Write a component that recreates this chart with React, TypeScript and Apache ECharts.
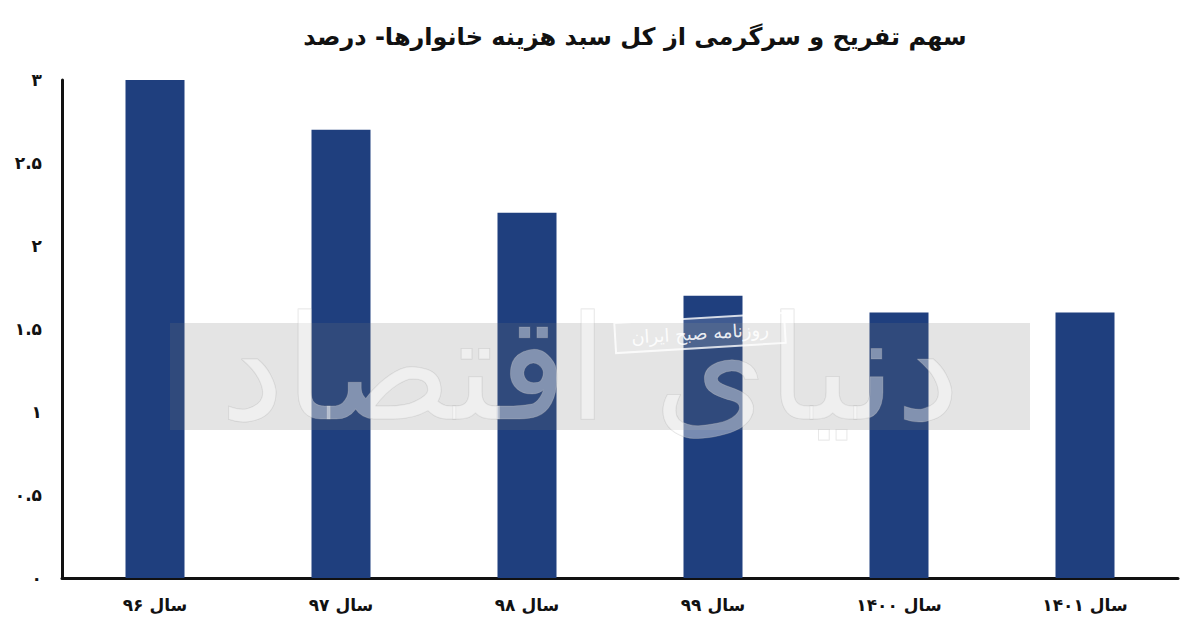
import React, { useEffect, useRef } from "react";
import * as echarts from "echarts";

const title = "سهم تفریح و سرگرمی از کل سبد هزینه خانوارها- درصد";
const categories = ["سال ۹۶", "سال ۹۷", "سال ۹۸", "سال ۹۹", "سال ۱۴۰۰", "سال ۱۴۰۱"];
const values = [3.0, 2.7, 2.2, 1.7, 1.6, 1.6];
const watermarkBig = "دنیای اقتصاد";
const watermarkSmall = "روزنامه صبح ایران";

const FA = "۰۱۲۳۴۵۶۷۸۹";
const toFa = (s: string) => s.replace(/\d/g, (d) => FA[Number(d)]);

const FONT = "'DejaVu Sans', 'Noto Sans', sans-serif";

export default function App() {
  const ref = useRef<HTMLDivElement>(null);
  useEffect(() => {
    if (!ref.current) return;
    const chart = echarts.init(ref.current, undefined, { renderer: "svg" });
    chart.setOption({
      animation: false,
      backgroundColor: "#ffffff",
      title: {
        text: title,
        left: 630,
        top: 20,
        textAlign: "center",
        textStyle: { fontFamily: FONT, fontSize: 24, fontWeight: "bold", color: "#111" },
      },
      grid: { left: 62, right: 22, top: 80, bottom: 50, containLabel: false },
      xAxis: {
        type: "category",
        data: categories,
        axisLine: { lineStyle: { color: "#111", width: 3 } },
        axisTick: { show: false },
        axisLabel: {
          fontFamily: FONT,
          fontSize: 17,
          fontWeight: "bold",
          color: "#111",
          margin: 18,
        },
      },
      yAxis: {
        type: "value",
        min: 0,
        max: 3,
        interval: 0.5,
        splitLine: { show: false },
        axisLine: { show: true, lineStyle: { color: "#111", width: 3 } },
        axisTick: { show: false },
        axisLabel: {
          fontFamily: FONT,
          fontSize: 17,
          fontWeight: "bold",
          color: "#111",
          margin: 20,
          formatter: (v: number) => toFa(String(v)),
        },
      },
      series: [
        {
          type: "bar",
          data: values,
          barWidth: 59,
          itemStyle: { color: "#1f3f7e" },
        },
      ],
      graphic: [
        {
          type: "rect",
          z: 100,
          shape: { x: 170, y: 323, width: 860, height: 107 },
          style: { fill: "rgba(120,120,120,0.2)" },
          silent: true,
        },
        {
          type: "text",
          z: 101,
          x: 590,
          y: 368,
          style: {
            text: watermarkBig,
            fontFamily: FONT,
            fontSize: 145,
            align: "center",
            verticalAlign: "middle",
            fill: "rgba(255,255,255,0.4)",
            stroke: "rgba(160,160,160,0.3)",
            lineWidth: 1,
          },
          silent: true,
        },
        {
          type: "group",
          z: 102,
          x: 700,
          y: 333,
          rotation: 0.06,
          children: [
            {
              type: "rect",
              z: 102,
              shape: { x: -85, y: -15, width: 170, height: 30 },
              style: { fill: "rgba(255,255,255,0.15)", stroke: "rgba(255,255,255,0.8)", lineWidth: 2 },
            },
            {
              type: "text",
              z: 103,
              style: {
                text: watermarkSmall,
                fontFamily: FONT,
                fontSize: 18,
                align: "center",
                verticalAlign: "middle",
                fill: "rgba(255,255,255,0.9)",
              },
            },
          ],
          silent: true,
        },
      ],
    });
    return () => chart.dispose();
  }, []);
  return (
    <div
      ref={ref}
      style={{ position: "fixed", left: 0, top: 0, width: 1200, height: 628 }}
    />
  );
}
